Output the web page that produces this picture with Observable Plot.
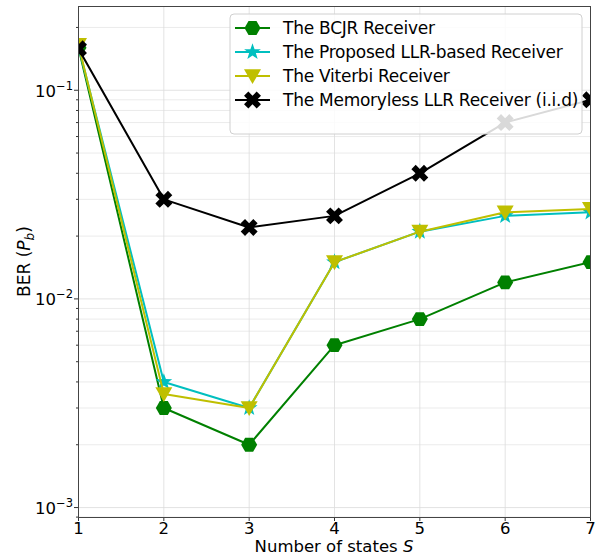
<!DOCTYPE html>
<html>
<head>
<meta charset="utf-8">
<script src="https://cdn.jsdelivr.net/npm/d3@7"></script>
<script src="https://cdn.jsdelivr.net/npm/@observablehq/plot@0.6"></script>
<style>
  html, body { margin: 0; padding: 0; background: #fff; }
  #chart { width: 606px; height: 556px; }
  svg { font-family: "DejaVu Sans", sans-serif; }
</style>
</head>
<body>
<div id="chart"></div>
<script>
// ---- data ----
const states = [1, 2, 3, 4, 5, 6, 7];
const bcjr = [0.16, 0.003, 0.002, 0.006, 0.008, 0.012, 0.015];
const proposed = [0.162, 0.004, 0.003, 0.015, 0.021, 0.025, 0.026];
const viterbi = [0.165, 0.0035, 0.003, 0.015, 0.021, 0.026, 0.027];
const memoryless = [0.158, 0.030, 0.022, 0.025, 0.040, 0.070, 0.090];
const seriesNames = ["The BCJR Receiver", "The Proposed LLR-based Receiver", "The Viterbi Receiver", "The Memoryless LLR Receiver (i.i.d)"];
const seriesColors = ["#008000", "#00bfbf", "#bfbf00", "#000000"];
const xTicks = [1, 2, 3, 4, 5, 6, 7];
const yMajor = [1e-3, 1e-2, 1e-1];
const yMajorExp = ["\u22123", "\u22122", "\u22121"];
const yMinor = [];
for (const dec of [1e-4, 1e-3, 1e-2, 1e-1]) for (let k = 2; k <= 9; k++) yMinor.push(+(k * dec).toPrecision(3));
const yDomain = [8.96e-4, 0.252];

// ---- custom symbols ----
const hexFlat = { draw(ctx, size) { const r = Math.sqrt(size / Math.PI);
  for (let i = 0; i < 6; i++) { const a = i * Math.PI / 3; const x = r * Math.cos(a), y = r * Math.sin(a);
    if (i === 0) ctx.moveTo(x, y); else ctx.lineTo(x, y); } ctx.closePath(); } };
const triDown = { draw(ctx, size) { const r = Math.sqrt(size / Math.PI);
  ctx.moveTo(-r, -0.8 * r); ctx.lineTo(r, -0.8 * r); ctx.lineTo(0, 0.95 * r); ctx.closePath(); } };
const star5 = { draw(ctx, size) { const r = Math.sqrt(size / Math.PI) * 1.1, ri = r * 0.4;
  for (let i = 0; i < 10; i++) { const rr = i % 2 ? ri : r; const a = -Math.PI / 2 + i * Math.PI / 5;
    const x = rr * Math.cos(a), y = rr * Math.sin(a); if (i === 0) ctx.moveTo(x, y); else ctx.lineTo(x, y); } ctx.closePath(); } };
const fillX = { draw(ctx, size) { const r = Math.sqrt(size / Math.PI);
  const L = r * 1.05, w = r * 0.36;
  const pts = [[-w,-L],[w,-L],[w,-w],[L,-w],[L,w],[w,w],[w,L],[-w,L],[-w,w],[-L,w],[-L,-w],[-w,-w]];
  const c = Math.SQRT1_2;
  pts.forEach(([x, y], i) => { const xr = c * (x - y), yr = c * (x + y); if (i === 0) ctx.moveTo(xr, yr); else ctx.lineTo(xr, yr); });
  ctx.closePath(); } };
const symbols = [hexFlat, star5, triDown, fillX];
const radii = [8, 8, 8.5, 8.5];

const allSeries = [bcjr, proposed, viterbi, memoryless];
const data = [];
allSeries.forEach((vals, si) => vals.forEach((v, i) => data.push({ s: si, x: states[i], y: v })));
const yMinorIn = yMinor.filter(v => v >= yDomain[0] && v <= yDomain[1]);

const marks = [
  Plot.gridY(yMinorIn, { stroke: "#e6e6e6", strokeOpacity: 1, strokeWidth: 0.8 }),
  Plot.gridY(yMajor, { stroke: "#dcdcdc", strokeOpacity: 1, strokeWidth: 0.8 }),
  Plot.gridX(xTicks, { stroke: "#dcdcdc", strokeOpacity: 1, strokeWidth: 0.8 }),
  Plot.axisX(xTicks, { tickSize: 4, tickPadding: 1, fontSize: 16.5, label: null, stroke: "#333" }),
  Plot.axisY(yMajor, { tickSize: 4, tickFormat: () => "", label: null, stroke: "#333" }),
  Plot.axisY(yMinorIn, { tickSize: 2, tickFormat: () => "", label: null, stroke: "#333" })
];
allSeries.forEach((vals, si) => {
  const d = data.filter(r => r.s === si);
  marks.push(Plot.line(d, { x: "x", y: "y", stroke: seriesColors[si], strokeWidth: 2, clip: "frame" }));
  marks.push(Plot.dot(d, { x: "x", y: "y", fill: seriesColors[si], stroke: "none", r: radii[si], symbol: () => symbols[si], clip: "frame" }));
});
marks.push(Plot.frame({ stroke: "#444", strokeWidth: 1 }));

const chart = Plot.plot({
  width: 606, height: 556,
  marginLeft: 78, marginRight: 16, marginTop: 6, marginBottom: 39,
  style: { fontFamily: "DejaVu Sans, sans-serif", fontSize: "17px", color: "#000", background: "#fff" },
  x: { type: "linear", domain: [1, 7] },
  y: { type: "log", domain: yDomain },
  symbol: { type: "identity" },
  marks
});
document.getElementById("chart").appendChild(chart);

const svg = d3.select(chart);
const yScale = chart.scale("y");

// y tick labels with superscript exponent
const gy = svg.append("g").attr("text-anchor", "end").attr("font-size", 16.5);
yMajor.forEach((v, i) => {
  const y = yScale.apply(v);
  const t = gy.append("text").attr("x", 73).attr("y", y + 7);
  t.append("tspan").text("10");
  t.append("tspan").attr("font-size", 11.5).attr("dy", -7).text(yMajorExp[i]);
});

// axis labels
svg.append("text").attr("x", 78 + (606 - 16 - 78) / 2).attr("y", 551.5).attr("text-anchor", "middle").attr("font-size", 16.5)
  .call(t => { t.append("tspan").text("Number of states "); t.append("tspan").attr("font-style", "italic").text("S"); });
svg.append("text").attr("transform", `translate(30,${6 + (556 - 39 - 6) / 2}) rotate(-90)`).attr("text-anchor", "middle").attr("font-size", 17)
  .call(t => { t.append("tspan").text("BER ("); t.append("tspan").attr("font-style", "italic").text("P");
    t.append("tspan").attr("font-style", "italic").attr("font-size", 12).attr("dy", 4).text("b");
    t.append("tspan").attr("dy", -4).text(")"); });

// legend
const lg = svg.append("g").attr("text-anchor", "start");
lg.append("rect").attr("x", 230).attr("y", 14).attr("width", 352).attr("height", 120).attr("rx", 4)
  .attr("fill", "#fff").attr("fill-opacity", 0.85).attr("stroke", "#d0d0d0");
seriesNames.forEach((name, i) => {
  const cy = 28 + i * 24;
  lg.append("line").attr("x1", 235).attr("x2", 270).attr("y1", cy).attr("y2", cy).attr("stroke", seriesColors[i]).attr("stroke-width", 2);
  lg.append("path").attr("d", d3.symbol().type(symbols[i]).size(Math.PI * radii[i] * radii[i])())
    .attr("transform", `translate(252.5,${cy})`).attr("fill", seriesColors[i]);
  lg.append("text").attr("x", 283).attr("y", cy).attr("dy", "0.36em").attr("font-size", 17).attr("letter-spacing", -0.25)
    .attr("text-anchor", "start").text(name);
});
</script>
</body>
</html>
